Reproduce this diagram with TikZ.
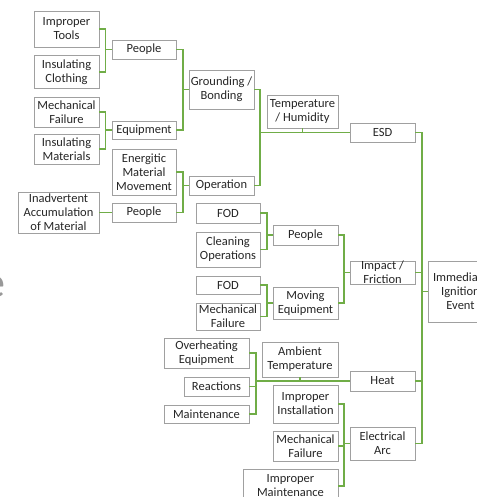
\documentclass[tikz,border=0pt]{standalone}
\usepackage{fontspec}
\setmainfont{Carlito}
\definecolor{cgreen}{HTML}{70AD47}
\definecolor{cborder}{HTML}{A0A0A0}
\definecolor{ctext}{HTML}{262626}
\begin{document}
\begin{tikzpicture}[x=1pt,y=-1pt,
  box/.style={draw=cborder, line width=0.9pt, fill=white, align=center, inner sep=0pt,
    text=ctext, font=\fontsize{12.5}{14}\selectfont},
  conn/.style={draw=cgreen, line width=1.6pt}]
\useasboundingbox (0,0) rectangle (476,497);
% faint cut letter at left edge
\node[anchor=east, inner sep=0pt, text=gray!80, font=\fontsize{44}{44}\selectfont] (cut) at (6,287) {e};
% bracket x positions
\coordinate (bx1) at (105.5,0);
\coordinate (bx2) at (183,0);
\coordinate (bx3) at (260,0);
\coordinate (bx4) at (267,0);
\coordinate (bx5) at (344,0);
\coordinate (bx6) at (256,0);
\coordinate (bx7) at (422,0);
% nodes
\node[box, minimum width=65, minimum height=36] (it) at (66.5,29) {Improper\\Tools};
\node[box, minimum width=65, minimum height=33] (ic) at (66.5,72) {Insulating\\Clothing};
\node[box, minimum width=64, minimum height=19] (p1) at (144,49.5) {People};
\node[box, minimum width=65, minimum height=30] (mf1) at (66.5,112) {Mechanical\\Failure};
\node[box, minimum width=65, minimum height=30] (im) at (66.5,149) {Insulating\\Materials};
\node[box, minimum width=64, minimum height=18] (eq) at (144,130) {Equipment};
\node[box, minimum width=65, minimum height=39] (gb) at (221.5,89.5) {Grounding /\\Bonding};
\node[box, minimum width=64, minimum height=46] (emm) at (144,172) {Energitic\\Material\\Movement};
\node[box, minimum width=65, minimum height=19] (op) at (221.5,185.5) {Operation};
\node[box, minimum width=81, minimum height=41] (iam) at (58.5,212.5) {Inadvertent\\Accumulation\\of Material};
\node[box, minimum width=64, minimum height=19] (p2) at (144,212.5) {People};
\node[box, minimum width=71, minimum height=33] (th) at (302.5,111.5) {Temperature\\/ Humidity};
\node[box, minimum width=65, minimum height=19] (esd) at (382.5,132.5) {ESD};
\node[box, minimum width=64, minimum height=20] (fod1) at (228,213) {FOD};
\node[box, minimum width=64, minimum height=35] (co) at (228,249.5) {Cleaning\\Operations};
\node[box, minimum width=65, minimum height=20] (p3) at (305.5,235) {People};
\node[box, minimum width=64, minimum height=18] (fod2) at (228,285) {FOD};
\node[box, minimum width=64, minimum height=27] (mf2) at (228,316.5) {Mechanical\\Failure};
\node[box, minimum width=65, minimum height=32] (me) at (305.5,303) {Moving\\Equipment};
\node[box, minimum width=65, minimum height=23] (if) at (382.5,272.5) {Impact /\\Friction};
\node[box, minimum width=65, minimum height=61] (iie) at (460.5,291.5) {Immediate\\Ignition\\Event};
\node[box, minimum width=85, minimum height=30] (oe) at (206.5,353) {Overheating\\Equipment};
\node[box, minimum width=65, minimum height=19] (re) at (216.5,386.5) {Reactions};
\node[box, minimum width=85, minimum height=18] (mt) at (206.5,414) {Maintenance};
\node[box, minimum width=76, minimum height=35] (at) at (300,359.5) {Ambient\\Temperature};
\node[box, minimum width=65, minimum height=20] (heat) at (382.5,381) {Heat};
\node[box, minimum width=65, minimum height=38] (ii) at (305.5,404) {Improper\\Installation};
\node[box, minimum width=65, minimum height=30] (mf3) at (305.5,446) {Mechanical\\Failure};
\node[box, minimum width=65, minimum height=33] (ea) at (382.5,443.5) {Electrical\\Arc};
\node[box, minimum width=95, minimum height=34] (imt) at (290.5,486) {Improper\\Maintenance};
% connectors
\draw[conn] (it.east) -- (it.east -| bx1) |- (p1.west);
\draw[conn] (ic.east) -- (ic.east -| bx1) |- (p1.west);
\draw[conn] (mf1.east) -- (mf1.east -| bx1) |- (eq.west);
\draw[conn] (im.east) -- (im.east -| bx1) |- (eq.west);
\draw[conn] (p1.east) -- (p1.east -| bx2) |- (gb.west);
\draw[conn] (eq.east) -- (eq.east -| bx2) |- (gb.west);
\draw[conn] (emm.east) -- (emm.east -| bx2) |- (op.west);
\draw[conn] (p2.east) -- (p2.east -| bx2) |- (op.west);
\draw[conn] (iam.east) -- (p2.west);
\draw[conn] (gb.east) -- (gb.east -| bx3) |- (esd.west);
\draw[conn] (op.east) -- (op.east -| bx3) |- (esd.west);
\draw[conn] (th.south) -- (th.south |- esd.west);
\draw[conn] (fod1.east) -- (fod1.east -| bx4) |- (p3.west);
\draw[conn] (co.east) -- (co.east -| bx4) |- (p3.west);
\draw[conn] (fod2.east) -- (fod2.east -| bx4) |- (me.west);
\draw[conn] (mf2.east) -- (mf2.east -| bx4) |- (me.west);
\draw[conn] (p3.east) -- (p3.east -| bx5) |- (if.west);
\draw[conn] (me.east) -- (me.east -| bx5) |- (if.west);
\draw[conn] (oe.east) -- (oe.east -| bx6) |- (heat.west);
\draw[conn] (re.east) -- (re.east -| bx6) |- (heat.west);
\draw[conn] (mt.east) -- (mt.east -| bx6) |- (heat.west);
\draw[conn] (at.south) -- (at.south |- heat.west);
\draw[conn] (ii.east) -- (ii.east -| bx5) |- (ea.west);
\draw[conn] (mf3.east) -- (mf3.east -| bx5) |- (ea.west);
\draw[conn] (imt.east) -- (imt.east -| bx5) |- (ea.west);
\draw[conn] (esd.east) -- (esd.east -| bx7) |- (iie.west);
\draw[conn] (if.east) -- (if.east -| bx7) |- (iie.west);
\draw[conn] (heat.east) -- (heat.east -| bx7) |- (iie.west);
\draw[conn] (ea.east) -- (ea.east -| bx7) |- (iie.west);
\end{tikzpicture}
\end{document}
